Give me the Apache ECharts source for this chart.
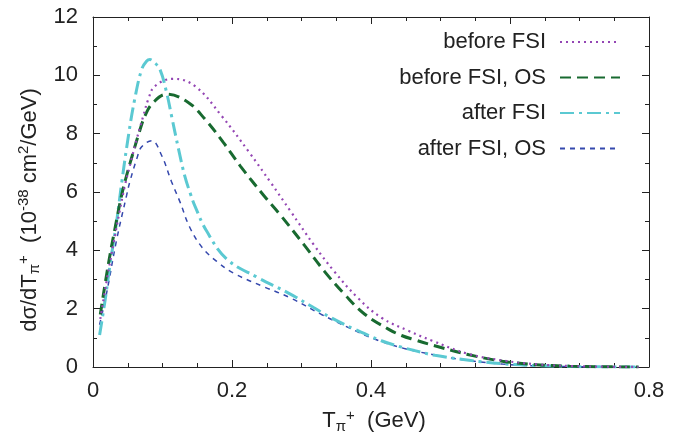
<!DOCTYPE html>
<html>
<head>
<meta charset="utf-8">
<script src="https://cdn.jsdelivr.net/npm/echarts@6/dist/echarts.min.js"></script>
<style>
html,body{margin:0;padding:0;background:#fff;}
#chart{width:694px;height:439px;}
</style>
</head>
<body>
<div id="chart"></div>
<script>
var seriesNames = ['before FSI', 'before FSI, OS', 'after FSI', 'after FSI, OS'];

var beforeT = [0.0105, 0.02, 0.03, 0.038, 0.046, 0.0556, 0.063, 0.0724, 0.0796, 0.089, 0.1155, 0.1468, 0.185, 0.225, 0.2555, 0.284, 0.318, 0.347, 0.381, 0.415, 0.454, 0.488, 0.54, 0.59, 0.64, 0.69, 0.74, 0.785];
var beforeV = [1.65, 3.0, 4.3, 5.3, 6.23, 7.14, 7.82, 8.61, 9.18, 9.63, 9.88, 9.63, 8.61, 7.35, 6.33, 5.35, 4.18, 3.28, 2.37, 1.69, 1.24, 0.90, 0.45, 0.22, 0.09, 0.03, 0.01, 0.0];

var beforeOsT = [0.0105, 0.022, 0.0317, 0.0412, 0.0484, 0.058, 0.065, 0.0748, 0.0868, 0.106, 0.137, 0.161, 0.1875, 0.212, 0.246, 0.270, 0.304, 0.333, 0.362, 0.391, 0.425, 0.444, 0.463, 0.49, 0.541, 0.589, 0.637, 0.686, 0.73, 0.785];
var beforeOsV = [1.8, 3.51, 4.76, 5.89, 6.57, 7.37, 7.93, 8.61, 9.07, 9.35, 9.07, 8.5, 7.7, 6.89, 5.87, 5.2, 4.18, 3.28, 2.49, 1.81, 1.30, 1.08, 0.93, 0.74, 0.42, 0.20, 0.08, 0.03, 0.01, 0.0];

var afterT = [0.0095, 0.0173, 0.0245, 0.034, 0.0412, 0.051, 0.060, 0.070, 0.077, 0.082, 0.088, 0.0964, 0.106, 0.113, 0.123, 0.132, 0.14, 0.147, 0.1635, 0.1925, 0.236, 0.28, 0.318, 0.3425, 0.376, 0.415, 0.444, 0.463, 0.492, 0.541, 0.589, 0.637, 0.686, 0.73, 0.785];
var afterV = [1.1, 2.27, 3.51, 4.99, 6.3, 7.93, 9.18, 10.2, 10.48, 10.54, 10.45, 10.2, 9.4, 8.61, 7.48, 6.55, 5.95, 5.5, 4.66, 3.7, 3.08, 2.55, 2.03, 1.69, 1.30, 0.90, 0.68, 0.56, 0.40, 0.23, 0.11, 0.05, 0.02, 0.005, 0.0];

var afterOsT = [0.0095, 0.0197, 0.034, 0.0484, 0.053, 0.063, 0.070, 0.0844, 0.0988, 0.113, 0.125, 0.139, 0.157, 0.178, 0.202, 0.246, 0.284, 0.328, 0.367, 0.405, 0.444, 0.488, 0.541, 0.589, 0.637, 0.686, 0.73, 0.785];
var afterOsV = [1.45, 2.55, 4.36, 5.89, 6.35, 7.14, 7.55, 7.76, 7.25, 6.35, 5.67, 4.8, 4.1, 3.62, 3.22, 2.75, 2.37, 1.81, 1.36, 0.96, 0.66, 0.43, 0.22, 0.10, 0.04, 0.015, 0.005, 0.0];

var xTicks = [0, 0.2, 0.4, 0.6, 0.8];
var yTicks = [0, 2, 4, 6, 8, 10, 12];

function pairs(xs, ys) {
  return xs.map(function (x, i) { return [x, ys[i]]; });
}

var FONT = "'Liberation Sans', Arial, Helvetica, sans-serif";
var TXT = '#222222';

var richStyles = {
  n: { fontSize: 22, fontFamily: FONT, color: TXT, verticalAlign: 'middle', lineHeight: 26 },
  sub: { fontSize: 15, fontFamily: FONT, color: TXT, verticalAlign: 'bottom', lineHeight: 15 },
  sup: { fontSize: 15, fontFamily: FONT, color: TXT, verticalAlign: 'top', lineHeight: 15 }
};

var chart = echarts.init(document.getElementById('chart'), null, { renderer: 'canvas' });

var axisCommon = {
  axisLine: { show: true, onZero: false, lineStyle: { color: '#222', width: 1 } },
  axisTick: { show: true, inside: true, length: 7, lineStyle: { color: '#222', width: 1 } },
  splitLine: { show: false }
};

function xAxisDef(pos, showLabel) {
  return Object.assign({}, axisCommon, {
    type: 'value', position: pos, min: 0, max: 0.8, interval: 0.2,
    minorTick: { show: true, splitNumber: 4, length: 4, lineStyle: { color: '#222', width: 1 } },
    axisLabel: {
      show: showLabel, margin: 13, fontSize: 22, fontFamily: FONT, color: TXT,
      formatter: function (v) {
        for (var i = 0; i < xTicks.length; i++) { if (Math.abs(xTicks[i] - v) < 1e-9) return String(xTicks[i]); }
        return '';
      }
    },
    name: showLabel ? '{n|T}{sub|π}{sup|+}{n|  (GeV)}' : '',
    nameLocation: 'middle', nameGap: 41,
    nameTextStyle: { rich: richStyles, padding: [0, 0, 0, 6] }
  });
}

function yAxisDef(pos, showLabel) {
  return Object.assign({}, axisCommon, {
    type: 'value', position: pos, min: 0, max: 12, interval: 2,
    minorTick: { show: true, splitNumber: 2, length: 4, lineStyle: { color: '#222', width: 1 } },
    axisLabel: {
      show: showLabel, margin: 15, fontSize: 22, fontFamily: FONT, color: TXT,
      formatter: function (v) {
        for (var i = 0; i < yTicks.length; i++) { if (Math.abs(yTicks[i] - v) < 1e-9) return String(yTicks[i]); }
        return '';
      }
    },
    name: showLabel ? '{n|dσ/dT}{sub|π}{sup|+}{n|  (10}{sup|-38}{n| cm}{sup|2}{n|/GeV)}' : '',
    nameLocation: 'middle', nameGap: 50, nameRotate: 90,
    nameTextStyle: { rich: richStyles, padding: [0, 36, 0, 0] }
  });
}

var styles = [
  { color: '#9446b4', width: 2.2, type: [2, 4] },
  { color: '#186a30', width: 3, type: [11, 6] },
  { color: '#5bc9d2', width: 3, type: [14, 5, 3, 5] },
  { color: '#3548ad', width: 1.5, type: [5, 5] }
];
var dataSets = [
  pairs(beforeT, beforeV),
  pairs(beforeOsT, beforeOsV),
  pairs(afterT, afterV),
  pairs(afterOsT, afterOsV)
];

var series = seriesNames.map(function (nm, i) {
  return {
    name: nm, type: 'line', data: dataSets[i],
    xAxisIndex: 0, yAxisIndex: 0,
    showSymbol: false, symbol: 'none',
    smooth: 0.4,
    itemStyle: { color: styles[i].color },
    lineStyle: { color: styles[i].color, width: styles[i].width, type: styles[i].type },
    z: 10 - i
  };
});

chart.setOption({
  animation: false,
  backgroundColor: '#ffffff',
  grid: { left: 93, right: 45, top: 17, bottom: 69, containLabel: false },
  xAxis: [xAxisDef('bottom', true), xAxisDef('top', false)],
  yAxis: [yAxisDef('left', true), yAxisDef('right', false)],
  legend: {
    orient: 'vertical', right: 73, top: 31, align: 'right',
    padding: 0, itemGap: 13.5, itemWidth: 60, itemHeight: 2,
    itemStyle: { opacity: 0 },
    textStyle: { fontSize: 22, lineHeight: 22, fontFamily: FONT, color: TXT, padding: [0, 9, 0, 0] },
    data: seriesNames.map(function (n) { return { name: n }; })
  },
  series: series
});
</script>
</body>
</html>
